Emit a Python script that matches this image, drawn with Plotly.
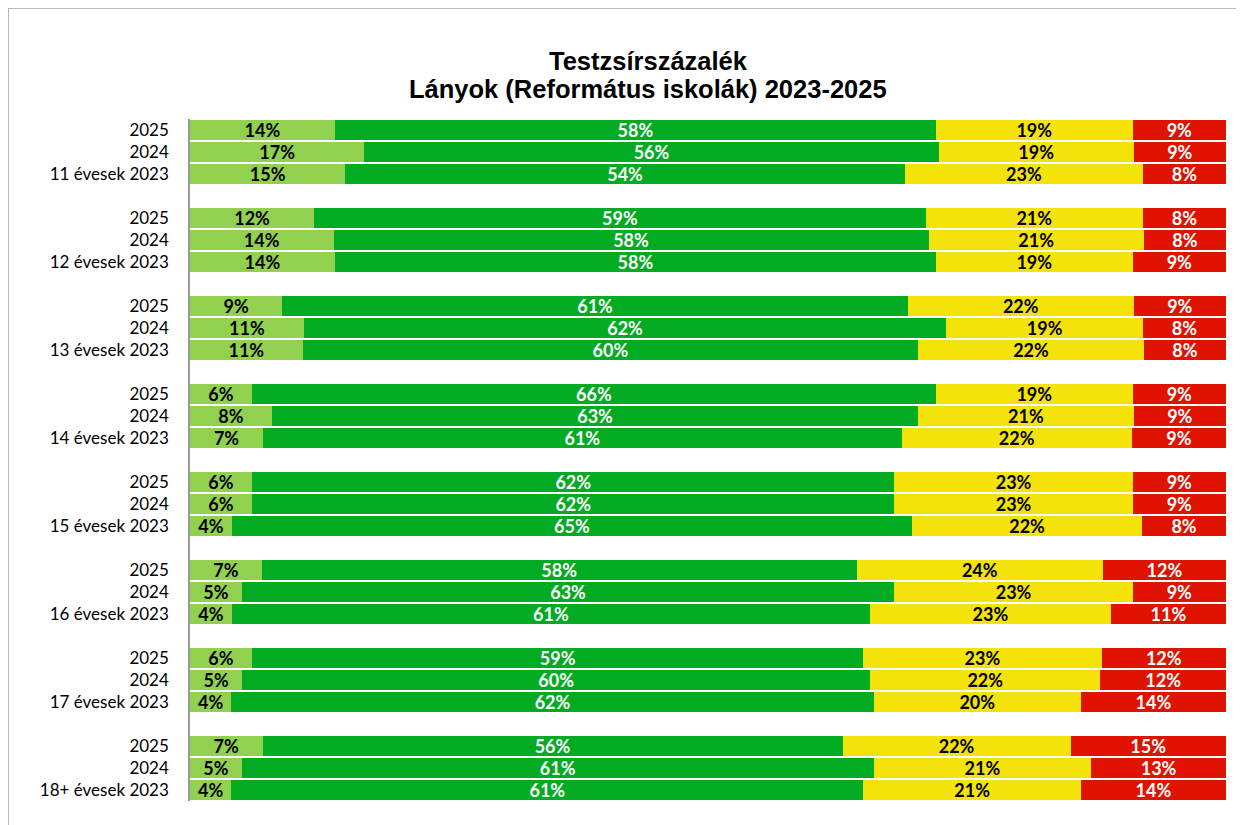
import plotly.graph_objects as go

groups = ["11", "12", "13", "14", "15", "16", "17", "18+"]
years = ["2025", "2024", "2023"]

# values per row (group-major, years 2025, 2024, 2023)
light_green = [14, 17, 15, 12, 14, 14, 9, 11, 11, 6, 8, 7, 6, 6, 4, 7, 5, 4, 6, 5, 4, 7, 5, 4]
green = [58, 56, 54, 59, 58, 58, 61, 62, 60, 66, 63, 61, 62, 62, 65, 58, 63, 61, 59, 60, 62, 56, 61, 61]
yellow = [19, 19, 23, 21, 21, 19, 22, 19, 22, 19, 21, 22, 23, 23, 22, 24, 23, 23, 23, 22, 20, 22, 21, 21]
red = [9, 9, 8, 8, 8, 9, 9, 8, 8, 9, 9, 9, 9, 9, 8, 12, 9, 11, 12, 12, 14, 15, 13, 14]

title_lines = ["Testzsírszázalék", "Lányok (Református iskolák) 2023-2025"]

series = [
    ("light", light_green, "#92D050", "black"),
    ("green", green, "#03AB23", "white"),
    ("yellow", yellow, "#F3E30B", "black"),
    ("red", red, "#E01300", "white"),
]

ypos = []
ticktext = []
for gi, g in enumerate(groups):
    for yi, yr in enumerate(years):
        ypos.append(gi * 4 + yi)
        ticktext.append(f"{g} évesek {yr}" if yr == "2023" else yr)

fig = go.Figure()
for name, vals, color, tcolor in series:
    fig.add_trace(go.Bar(
        x=vals, y=ypos, orientation="h", name=name,
        marker=dict(color=color, line=dict(width=0)),
        width=0.9,
        text=[f"{v}%" for v in vals],
        textposition="inside", insidetextanchor="middle",
        textfont=dict(family="Lato", size=18, color=tcolor, weight="bold"),
        constraintext="none",
        hoverinfo="skip",
    ))

# page has an 8px body margin; figure is sized to fit the window
OFF = 8
W, H = 1244 - OFF, 825 - OFF
L, R, T, B = 190 - OFF, 18, 119 - OFF, 24
pw, ph = W - L - R, H - T - B

fig.update_layout(
    barmode="stack", barnorm="percent",
    width=W, height=H,
    margin=dict(l=L, r=R, t=T, b=B),
    plot_bgcolor="white", paper_bgcolor="white",
    showlegend=False,
    xaxis=dict(range=[0, 100], visible=False, fixedrange=True),
    yaxis=dict(range=[30.5, -0.5], tickvals=ypos, ticktext=ticktext,
               showgrid=False, zeroline=False, showline=True, linecolor="#9a9a9a",
               linewidth=1.5, ticks="", ticklabelstandoff=16,
               tickfont=dict(family="Lato", size=17, color="black")),
    font=dict(family="Lato"),
)

for line, ypix in zip(title_lines, [61, 88.5]):
    fig.add_annotation(
        text=line, xref="paper", yref="paper",
        x=(648 - OFF - L) / pw, y=(H - B - (ypix - OFF)) / ph,
        xanchor="center", yanchor="middle", showarrow=False,
        font=dict(family="Liberation Sans", size=25.5, color="black", weight="bold"),
    )

# outer chart border (left and top edges visible)
bx = (0 - L) / pw
by = (H - B - 0) / ph
fig.add_shape(type="line", xref="paper", yref="paper",
              x0=bx, x1=bx, y0=by, y1=(-B - 10) / ph,
              line=dict(color="#a0a0a0", width=1.5))
fig.add_shape(type="line", xref="paper", yref="paper",
              x0=bx, x1=(W + 10 - L) / pw, y0=by, y1=by,
              line=dict(color="#a0a0a0", width=1.5))

fig.write_html("out.html")
